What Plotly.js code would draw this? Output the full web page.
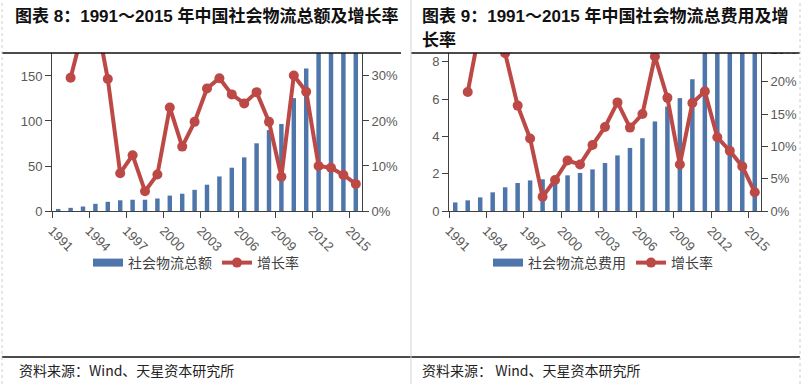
<!DOCTYPE html>
<html>
<head>
<meta charset="utf-8">
<script src="https://cdn.plot.ly/plotly-3.0.1.min.js"></script>
<style>
html,body{margin:0;padding:0;background:#ffffff;}
#chart{width:802px;height:384px;}
</style>
</head>
<body>
<div id="chart"></div>
<script>
// ---- data ----
const years = [1991,1992,1993,1994,1995,1996,1997,1998,1999,2000,2001,2002,2003,2004,2005,2006,2007,2008,2009,2010,2011,2012,2013,2014,2015];
// 社会物流总额 (万亿元)
const logisticsTotal = [2.3,3.5,5.0,8.0,10.2,11.9,12.5,12.5,13.9,17.1,19.2,23.5,29.2,38.4,48.1,59.6,75.2,89.9,96.7,125.4,158.4,177.3,197.8,213.5,219.2];
// 社会物流总额增长率
const totalGrowth = [null,0.296,0.403,0.439,0.293,0.084,0.124,0.044,0.081,0.230,0.143,0.198,0.272,0.295,0.259,0.239,0.264,0.198,0.076,0.301,0.265,0.100,0.096,0.080,0.060];
// 社会物流总费用 (万亿元)
const logisticsCost = [0.46,0.57,0.73,1.0,1.27,1.5,1.64,1.7,1.79,1.91,2.04,2.23,2.57,2.98,3.38,3.9,4.8,5.6,6.05,7.06,8.5,9.4,10.2,10.6,10.8];
// 社会物流总费用增长率
const costGrowth = [null,0.184,0.285,0.31,0.244,0.163,0.112,0.022,0.048,0.078,0.072,0.102,0.130,0.168,0.129,0.150,0.239,0.175,0.072,0.167,0.185,0.114,0.093,0.069,0.029];
const tickLabels = ['1991','1994','1997','2000','2003','2006','2009','2012','2015'];
const leftTicks = [0,50,100,150];
const leftPctTicks = [0,0.1,0.2,0.3];
const rightTicks = [0,2,4,6,8];
const rightPctTicks = [0,0.05,0.10,0.15,0.20,0.25];

const title1 = '图表 8：1991～2015 年中国社会物流总额及增长率';
const title2a = '图表 9：1991～2015 年中国社会物流总费用及增';
const title2b = '长率';
const source1 = '资料来源：Wind、天星资本研究所';
const source2 = '资料来源： Wind、天星资本研究所';

// ---- styling ----
const W = 802, H = 384;
const BAR = '#4f76aa', LINE = '#bd4946';
const TICKFONT = {family:'"Liberation Sans", Arial, sans-serif', size:13, color:'#595959'};
const CJK = '"Liberation Sans", "Noto Sans CJK SC", sans-serif';
const px = v => v / W;
const py = v => (H - v) / H;
const yDomain = [py(211), py(48)];

function xAxis(l, r, anchor){
  return {domain:[px(l), px(r)], anchor, range:[1990.5, 2015.5],
    tickvals: tickLabels.map(t => Number(t) - 0.5), ticktext: tickLabels,
    tickangle:45, ticks:'outside', ticklen:6, tickcolor:'#404040', tickwidth:1,
    showline:true, linecolor:'#404040', linewidth:1, showgrid:false, zeroline:false,
    tickfont:TICKFONT, fixedrange:true};
}
function yAxis(range, tickvals, anchor, extra){
  return Object.assign({domain:yDomain, anchor, range, tickvals,
    ticks:'outside', ticklen:6, tickcolor:'#404040', tickwidth:1,
    showline:true, linecolor:'#404040', linewidth:1, showgrid:false, zeroline:false,
    tickfont:TICKFONT, fixedrange:true}, extra || {});
}
const noValues = years.map(() => null);

const traces = [
  {type:'bar', x:years, y:logisticsTotal, xaxis:'x', yaxis:'y', width:0.36,
   marker:{color:BAR}, showlegend:false, hoverinfo:'skip'},
  // legend key only (wide bar swatch)
  {type:'scatter', mode:'lines', x:years, y:noValues, xaxis:'x', yaxis:'y', name:'社会物流总额',
   line:{color:BAR, width:8}, legend:'legend', showlegend:true},
  {type:'scatter', mode:'lines+markers', x:years, y:totalGrowth, xaxis:'x', yaxis:'y2', name:'增长率',
   line:{color:LINE, width:4}, marker:{color:LINE, size:10}, legend:'legend', hoverinfo:'skip'},

  {type:'bar', x:years, y:logisticsCost, xaxis:'x2', yaxis:'y3', width:0.36,
   marker:{color:BAR}, showlegend:false, hoverinfo:'skip'},
  {type:'scatter', mode:'lines', x:years, y:noValues, xaxis:'x2', yaxis:'y3', name:'社会物流总费用',
   line:{color:BAR, width:8}, legend:'legend2', showlegend:true},
  {type:'scatter', mode:'lines+markers', x:years, y:costGrowth, xaxis:'x2', yaxis:'y4', name:'增长率',
   line:{color:LINE, width:4}, marker:{color:LINE, size:10}, legend:'legend2', hoverinfo:'skip'}
];

const legendBase = {orientation:'h', xanchor:'left', yanchor:'middle', y:py(263),
  font:{family:'"Noto Sans CJK SC", sans-serif', size:14, color:'#404040'},
  bgcolor:'rgba(0,0,0,0)', itemgap:8, traceorder:'normal', itemclick:false, itemdoubleclick:false};

const shapes = [
  {type:'rect', xref:'paper', yref:'paper', x0:0, x1:1, y0:py(53), y1:1, fillcolor:'#ffffff', line:{width:0}, layer:'above'},
  {type:'line', xref:'paper', yref:'paper', x0:px(2), x1:px(401), y0:py(53), y1:py(53), line:{color:'#111', width:1.5}, layer:'above'},
  {type:'line', xref:'paper', yref:'paper', x0:px(411), x1:px(800), y0:py(53), y1:py(53), line:{color:'#111', width:1.5}, layer:'above'},
  {type:'line', xref:'paper', yref:'paper', x0:px(2), x1:px(800), y0:py(357), y1:py(357), line:{color:'#111', width:1.5}, layer:'above'},
  {type:'line', xref:'paper', yref:'paper', x0:px(411), x1:px(411), y0:0, y1:1, line:{color:'#d4d4d4', width:1}, layer:'above'},
  {type:'line', xref:'paper', yref:'paper', x0:px(2), x1:px(2), y0:0, y1:1, line:{color:'#cfcfcf', width:1, dash:'dot'}, layer:'above'},
  {type:'line', xref:'paper', yref:'paper', x0:px(800), x1:px(800), y0:0, y1:1, line:{color:'#cfcfcf', width:1, dash:'dot'}, layer:'above'}
];

function ann(text, x, y, font){
  return {text, xref:'paper', yref:'paper', x:px(x), y:py(y), xanchor:'left', yanchor:'middle',
    showarrow:false, font};
}
const titleFont = {family:CJK, size:17, color:'#111', weight:'bold'};
const srcFont = {family:'"Noto Sans CJK SC", sans-serif', size:14, color:'#222'};
const annotations = [
  ann(title1, 13, 16, titleFont),
  ann(title2a, 420, 16, titleFont),
  ann(title2b, 420, 40, titleFont),
  ann(source1, 17, 370, srcFont),
  ann(source2, 420, 370, srcFont)
];

const layout = {
  width:W, height:H, margin:{l:0, r:0, t:0, b:0, pad:0},
  paper_bgcolor:'#ffffff', plot_bgcolor:'#ffffff',
  bargap:0.6, barmode:'group',
  xaxis: xAxis(52, 362, 'y'),
  yaxis: yAxis([0, 181.1], leftTicks, 'x'),
  yaxis2: yAxis([0, 0.362], leftPctTicks, 'x', {overlaying:'y', side:'right', tickformat:'.0%'}),
  xaxis2: xAxis(449, 761, 'y3'),
  yaxis3: yAxis([0, 8.735], rightTicks, 'x2'),
  yaxis4: yAxis([0, 0.2521], rightPctTicks, 'x2', {overlaying:'y3', side:'right', tickformat:'.0%'}),
  legend: Object.assign({}, legendBase, {x:px(88)}),
  legend2: Object.assign({}, legendBase, {x:px(488)}),
  shapes, annotations,
  showlegend:true
};

Plotly.newPlot('chart', traces, layout, {displayModeBar:false, staticPlot:true});
</script>
</body>
</html>
